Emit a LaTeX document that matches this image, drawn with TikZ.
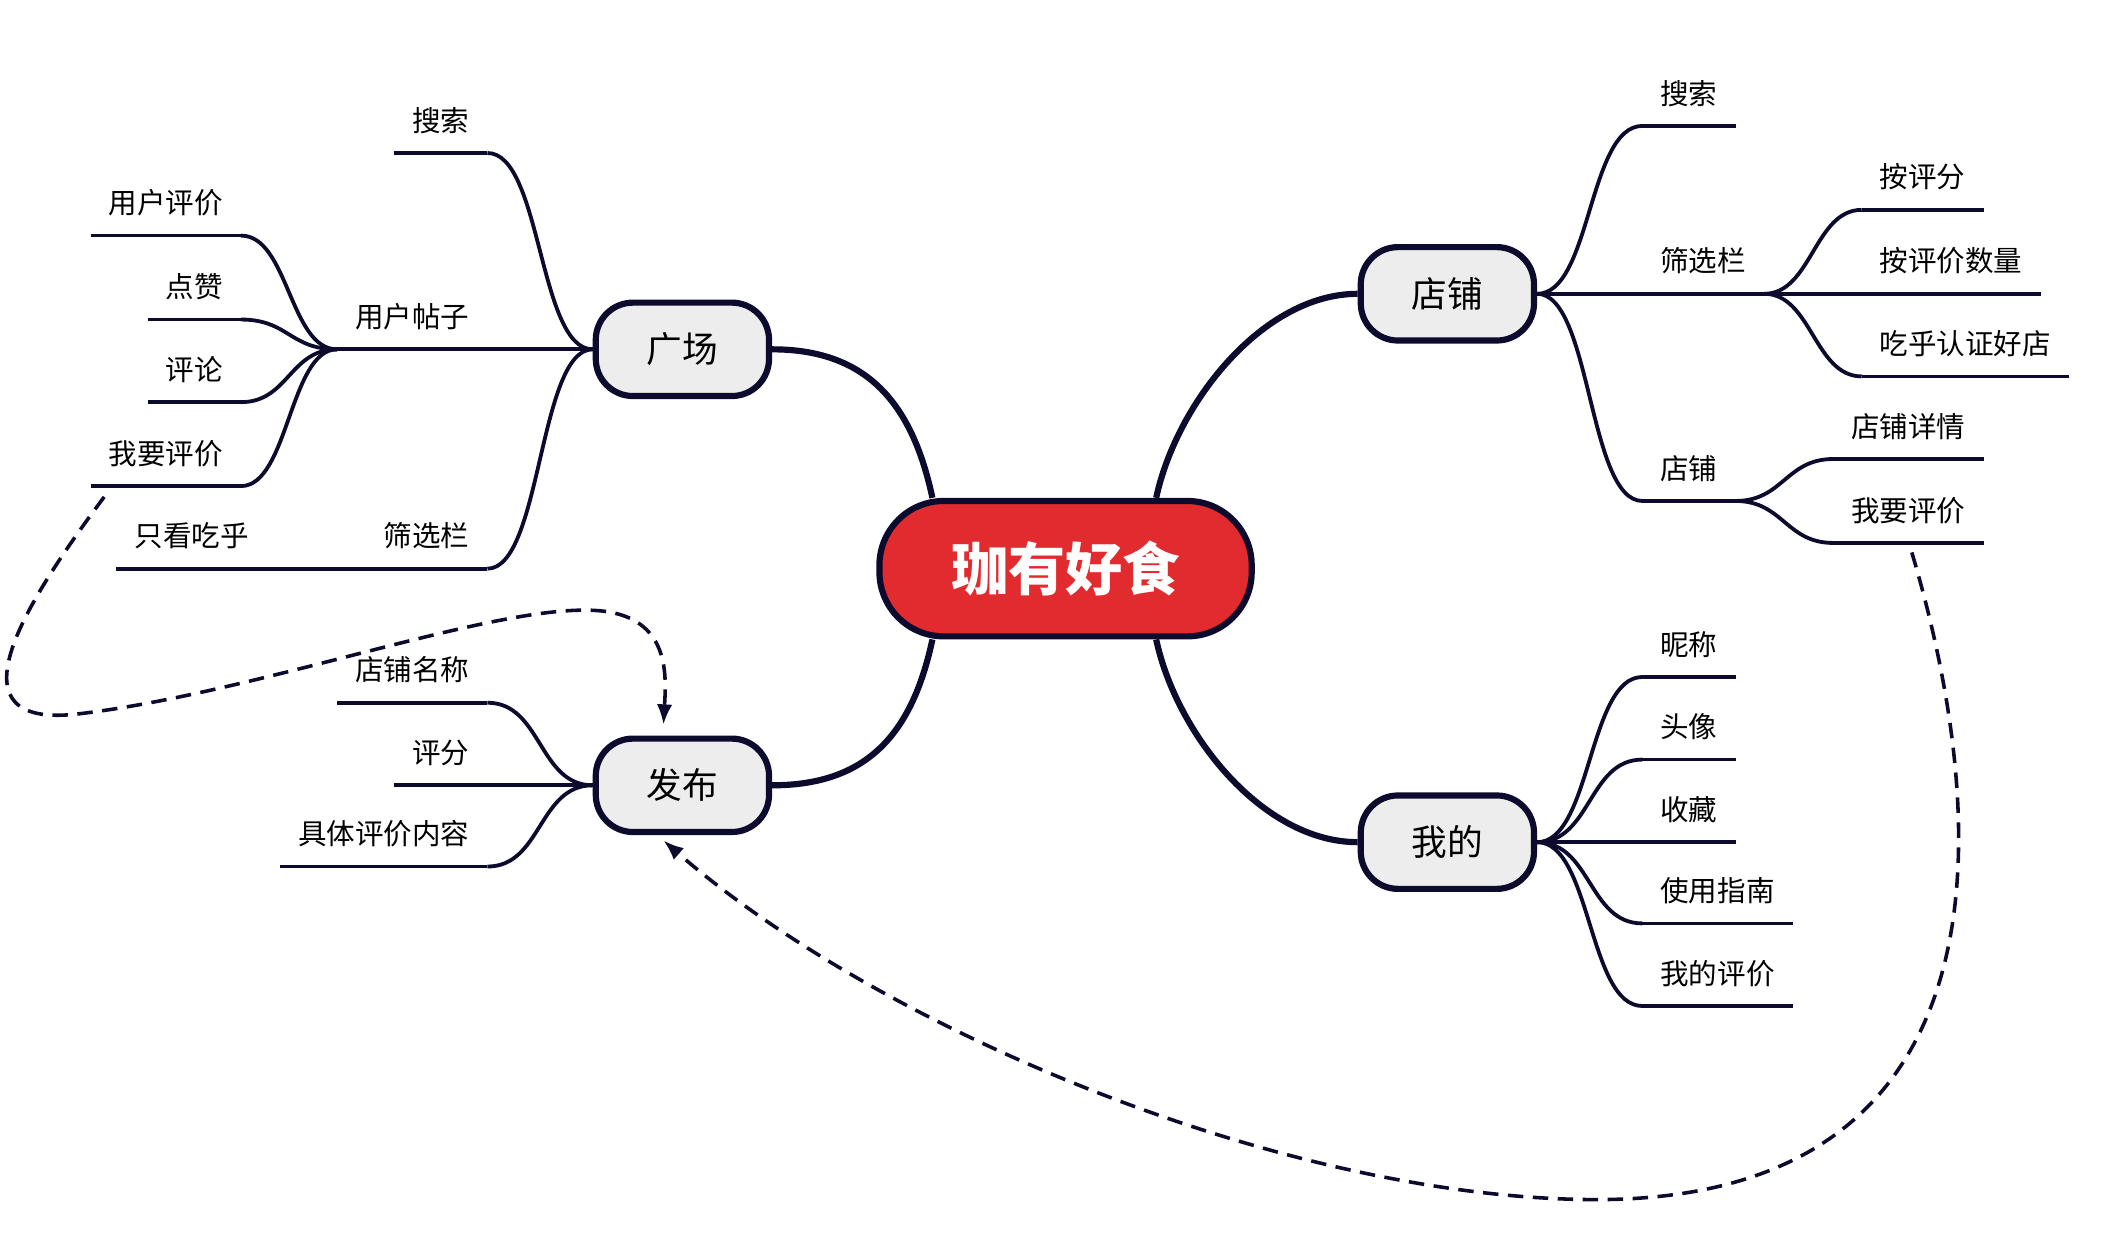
\documentclass[tikz,border=0pt]{standalone}
\usepackage{fontspec}
\setmainfont{Noto Sans CJK SC}
\usetikzlibrary{arrows.meta}
\definecolor{ink}{HTML}{0C0B2E}
\definecolor{tomato}{HTML}{E22B2E}
\definecolor{pale}{HTML}{EDEDED}

\begin{document}
\begin{tikzpicture}[x=0.02cm, y=-0.02cm,
    topic/.style={draw=ink, line width=2.6pt, fill=pale, rounded corners=0.55cm,
      minimum width=2.56cm, minimum height=1.38cm, font=\fontsize{15}{18}\selectfont},
    leaf/.style={inner xsep=7.4pt, inner ysep=7pt, text height=10pt, text depth=2pt,
      font=\fontsize{12}{14}\selectfont},
    trunk/.style={draw=ink, line width=2.6pt},
    twig/.style={draw=ink, line width=1.6pt},
    jump/.style={draw=ink, line width=1.5pt, dash pattern=on 6.5pt off 4pt,
      -{Latex[length=3mm, width=2.3mm]}}]
      \useasboundingbox (0,0) rectangle (1568,910);

      % centre and main topics
      \node[draw=ink, line width=2.6pt, fill=tomato, rounded corners=0.95cm,
        minimum width=5.5cm, minimum height=2cm, text=white,
        font=\fontsize{24}{28}\selectfont\bfseries] (root) at (787,420) {珈有好食};
      \node[topic] (square) at (504,258) {广场};
      \node[topic] (post) at (504,580) {发布};
      \node[topic] (shop) at (1069,217) {店铺};
      \node[topic] (mine) at (1069,622) {我的};

      \draw[trunk] (root.152) .. controls +(-15,-70) and +(70,0) .. (square.east);
      \draw[trunk] (root.208) .. controls +(-15,70) and +(70,0) .. (post.east);
      \draw[trunk] (root.38) .. controls +(15,-70) and +(-70,0) .. (shop.west);
      \draw[trunk] (root.322) .. controls +(15,70) and +(-70,0) .. (mine.west);

      % left side leaves
      \node[leaf, anchor=south east] (sqsearch) at (360,113) {搜索};
      \node[leaf, anchor=south east] (sqpost) at (360,258) {用户帖子};
      \node[leaf, anchor=south east] (sqfilter) at (360,420) {筛选栏};
      \node[leaf, anchor=south east] (ptuserrev) at (178,174) {用户评价};
      \node[leaf, anchor=south east] (ptlike) at (178,236) {点赞};
      \node[leaf, anchor=south east] (ptcomment) at (178,297) {评论};
      \node[leaf, anchor=south east] (ptmyrev) at (178,359) {我要评价};
      \node[leaf, anchor=south east] (ftonly) at (197,420) {只看吃乎};
      \node[leaf, anchor=south east] (pbname) at (360,519) {店铺名称};
      \node[leaf, anchor=south east] (pbscore) at (360,580) {评分};
      \node[leaf, anchor=south east] (pbdetail) at (360,640) {具体评价内容};

      % right side leaves
      \node[leaf, anchor=south west] (shsearch) at (1213,93) {搜索};
      \node[leaf, anchor=south west] (shfilter) at (1213,217) {筛选栏};
      \node[leaf, anchor=south west] (shshop) at (1213,370) {店铺};
      \node[leaf, anchor=south west] (fbscore) at (1375,155) {按评分};
      \node[leaf, anchor=south west] (fbcount) at (1375,217) {按评价数量};
      \node[leaf, anchor=south west] (fbcert) at (1375,278) {吃乎认证好店};
      \node[leaf, anchor=south west] (spdetail) at (1354,339) {店铺详情};
      \node[leaf, anchor=south west] (spmyrev) at (1354,401) {我要评价};
      \node[leaf, anchor=south west] (mnnick) at (1213,500) {昵称};
      \node[leaf, anchor=south west] (mnavatar) at (1213,561) {头像};
      \node[leaf, anchor=south west] (mnfav) at (1213,622) {收藏};
      \node[leaf, anchor=south west] (mnguide) at (1213,682) {使用指南};
      \node[leaf, anchor=south west] (mnmyrev) at (1213,743) {我的评价};

      \foreach \n in {sqsearch,sqpost,sqfilter,ptuserrev,ptlike,ptcomment,ptmyrev,%
          ftonly,pbname,pbscore,pbdetail,shsearch,shfilter,shshop,fbscore,fbcount,%
          fbcert,spdetail,spmyrev,mnnick,mnavatar,mnfav,mnguide,mnmyrev}
        \draw[twig] (\n.south west) -- (\n.south east);

      % branches
      \draw[twig] (square.west) .. controls +(-40,0) and +(40,0) .. (sqsearch.south east);
      \draw[twig] (square.west) -- (sqpost.south east);
      \draw[twig] (square.west) .. controls +(-40,0) and +(40,0) .. (sqfilter.south east);
      \foreach \n in {ptuserrev,ptlike,ptcomment,ptmyrev}
        \draw[twig] (sqpost.south west) .. controls +(-35,0) and +(35,0) .. (\n.south east);
      \draw[twig] (sqfilter.south west) -- (ftonly.south east);
      \foreach \n in {pbname,pbscore,pbdetail}
        \draw[twig] (post.west) .. controls +(-40,0) and +(40,0) .. (\n.south east);
      \foreach \n in {shsearch,shfilter,shshop}
        \draw[twig] (shop.east) .. controls +(40,0) and +(-40,0) .. (\n.south west);
      \foreach \n in {fbscore,fbcount,fbcert}
        \draw[twig] (shfilter.south east) .. controls +(35,0) and +(-35,0) .. (\n.south west);
      \foreach \n in {spdetail,spmyrev}
        \draw[twig] (shshop.south east) .. controls +(35,0) and +(-35,0) .. (\n.south west);
      \foreach \n in {mnnick,mnavatar,mnfav,mnguide,mnmyrev}
        \draw[twig] (mine.east) .. controls +(40,0) and +(-40,0) .. (\n.south west);

      % dashed links to 发布
      \draw[jump] ([shift={(10,8)}]ptmyrev.south west) .. controls (15,450) and (-40,540) .. (60,527)
        .. controls (200,510) and (380,440) .. (450,452)
        .. controls (495,460) and (492,500) .. ([shift={(-14,-8)}]post.north);
      \draw[jump] ([shift={(58,7)}]spmyrev.south west) .. controls (1475,620) and (1480,885) .. (1180,886)
        .. controls (950,886) and (650,760) .. ([shift={(-14,4)}]post.south);
\end{tikzpicture}
\end{document}
